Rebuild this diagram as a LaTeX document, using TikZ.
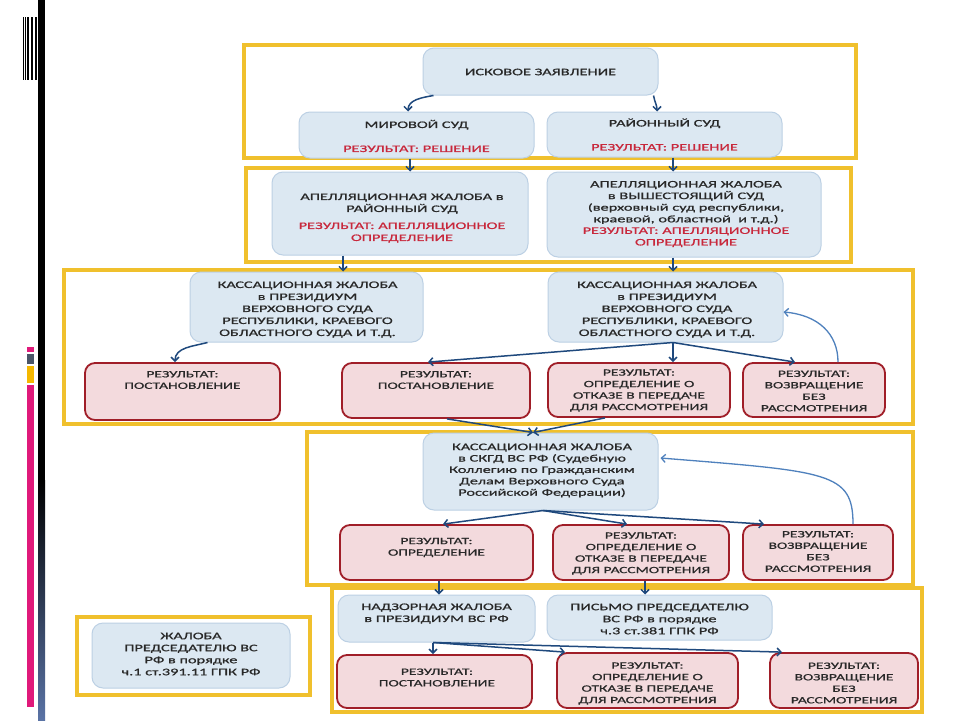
\documentclass[tikz,border=0pt]{standalone}
\usepackage{fontspec}
\newfontfamily\slidefont[FakeStretch=1.63,FakeBold=0.9]{Carlito}
\usetikzlibrary{arrows.meta,calc}
\definecolor{frameyel}{RGB}{240,192,45}
\definecolor{bluefill}{RGB}{220,232,242}
\definecolor{blueedge}{RGB}{188,208,228}
\definecolor{redfill}{RGB}{243,218,221}
\definecolor{rededge}{RGB}{160,30,40}
\definecolor{resred}{RGB}{200,40,60}
\definecolor{txtgray}{RGB}{40,40,40}
\definecolor{arrblue}{RGB}{31,73,125}
\definecolor{fbblue}{RGB}{79,129,189}
\definecolor{slate}{RGB}{90,115,165}
\definecolor{decopink}{RGB}{224,25,122}
\definecolor{decogray}{RGB}{74,85,104}
\definecolor{decoyel}{RGB}{245,184,0}
\begin{document}
\begin{tikzpicture}[x=1pt,y=-1pt,
  frame/.style={draw=frameyel, line width=4pt},
  bluebox/.style={draw=blueedge, fill=bluefill, line width=1pt, rounded corners=11pt, inner sep=0pt},
  redbox/.style={draw=rededge, fill=redfill, line width=1.8pt, rounded corners=10pt, inner sep=0pt},
  txt/.style={font=\slidefont\fontsize{10}{12}\selectfont, align=center, inner sep=0pt, text=txtgray},
  rtxt/.style={font=\slidefont\fontsize{9.5}{11.5}\selectfont, align=center, inner sep=0pt, text=txtgray},
  arr/.style={draw=arrblue, line width=1.5pt, -{Straight Barb[length=4pt,width=8pt]}},
  fb/.style={draw=fbblue, line width=1.3pt, -{Straight Barb[length=4pt,width=8pt]}}]
\useasboundingbox (0,0) rectangle (960,720);
\fill[white] (0,0) rectangle (960,720);
% left decorations
\fill[black] (38,0) rectangle (45,480);
\shade[top color=black, bottom color=slate] (38,480) rectangle (45,720);
\fill[black] (22.7,17) rectangle (23.7,80);
\fill[black] (25,17) rectangle (26,80);
\fill[black] (27.3,17) rectangle (29.3,80);
\fill[black] (30.7,17) rectangle (33.3,80);
\fill[black] (34.7,17) rectangle (37.3,80);
\fill[decopink] (27,347) rectangle (34,352);
\fill[decogray] (27,354) rectangle (34,364);
\fill[decoyel] (27,366) rectangle (34,383);
\fill[decopink] (27,385) rectangle (34,707);
% frames
\draw[frame] (244,45) rectangle (856,158);
\draw[frame] (246,168) rectangle (851,262);
\draw[frame] (64,270) rectangle (913,424);
\draw[frame] (307,432) rectangle (913,585);
\draw[frame] (332,588) rectangle (922,712);
\draw[frame] (77,617) rectangle (310,695);
% row 1
\node[bluebox, minimum width=235pt, minimum height=47pt] (isk) at (540.5,71.5) {};
\node[txt] (iskT) at (540.5,72) {ИСКОВОЕ ЗАЯВЛЕНИЕ};
\node[bluebox, minimum width=235pt, minimum height=46pt] (mir) at (416.5,135) {};
\node[txt] (mirT) at (416.5,136) {МИРОВОЙ СУД\\[12pt]{\color{resred}РЕЗУЛЬТАТ: РЕШЕНИЕ}};
\node[bluebox, minimum width=235pt, minimum height=45pt] (ray) at (664.5,134.5) {};
\node[txt] (rayT) at (664.5,134.5) {РАЙОННЫЙ СУД\\[12pt]{\color{resred}РЕЗУЛЬТАТ: РЕШЕНИЕ}};
% row 2
\node[bluebox, minimum width=256pt, minimum height=83pt] (apl) at (400,213.5) {};
\node[txt] (aplT) at (402,218) {АПЕЛЛЯЦИОННАЯ ЖАЛОБА в\\РАЙОННЫЙ СУД\\[5pt]{\color{resred}РЕЗУЛЬТАТ: АПЕЛЛЯЦИОННОЕ}\\{\color{resred}ОПРЕДЕЛЕНИЕ}};
\node[bluebox, minimum width=274pt, minimum height=85pt] (apr) at (684,214.5) {};
\node[txt, font=\slidefont\fontsize{10}{11.6}\selectfont] (aprT) at (686,214) {АПЕЛЛЯЦИОННАЯ ЖАЛОБА\\в ВЫШЕСТОЯЩИЙ СУД\\(верховный суд республики,\\краевой, областной \ и т.д.)\\{\color{resred}РЕЗУЛЬТАТ: АПЕЛЛЯЦИОННОЕ}\\{\color{resred}ОПРЕДЕЛЕНИЕ}};
% row 3
\node[bluebox, minimum width=233pt, minimum height=70pt] (ksl) at (306.5,307) {};
\node[txt] (kslT) at (307.5,309.5) {КАССАЦИОННАЯ ЖАЛОБА\\в ПРЕЗИДИУМ\\ВЕРХОВНОГО СУДА\\РЕСПУБЛИКИ, КРАЕВОГО\\ОБЛАСТНОГО СУДА И Т.Д.};
\node[bluebox, minimum width=235pt, minimum height=70pt] (ksr) at (665.5,307) {};
\node[txt] (ksrT) at (667,309.5) {КАССАЦИОННАЯ ЖАЛОБА\\в ПРЕЗИДИУМ\\ВЕРХОВНОГО СУДА\\РЕСПУБЛИКИ, КРАЕВОГО\\ОБЛАСТНОГО СУДА И Т.Д.};
\node[redbox, minimum width=195pt, minimum height=57pt] (r3a) at (182.5,391.5) {};
\node[rtxt] (r3aT) at (182.5,380) {РЕЗУЛЬТАТ:\\ПОСТАНОВЛЕНИЕ};
\node[redbox, minimum width=188pt, minimum height=55pt] (r3b) at (436,390.5) {};
\node[rtxt] (r3bT) at (436,380) {РЕЗУЛЬТАТ:\\ПОСТАНОВЛЕНИЕ};
\node[redbox, minimum width=182pt, minimum height=54pt] (r3c) at (639,390) {};
\node[rtxt] (r3cT) at (639,390.5) {РЕЗУЛЬТАТ:\\ОПРЕДЕЛЕНИЕ О\\ОТКАЗЕ В ПЕРЕДАЧЕ\\ДЛЯ РАССМОТРЕНИЯ};
\node[redbox, minimum width=142pt, minimum height=54pt] (r3d) at (814,390) {};
\node[rtxt] (r3dT) at (814,391) {РЕЗУЛЬТАТ:\\ВОЗВРАЩЕНИЕ\\БЕЗ\\РАССМОТРЕНИЯ};
% row 4
\node[bluebox, minimum width=235pt, minimum height=77pt] (skgd) at (540.5,471.5) {};
\node[txt, font=\slidefont\fontsize{10}{11.4}\selectfont] (skgdT) at (542,470.5) {КАССАЦИОННАЯ ЖАЛОБА\\в СКГД ВС РФ (Судебную\\Коллегию по Гражданским\\Делам Верховного Суда\\Российской Федерации)};
\node[redbox, minimum width=193pt, minimum height=55pt] (r4a) at (436.5,552.5) {};
\node[rtxt] (r4aT) at (436.5,547.5) {РЕЗУЛЬТАТ:\\ОПРЕДЕЛЕНИЕ};
\node[redbox, minimum width=176pt, minimum height=55pt] (r4b) at (641,552.5) {};
\node[rtxt] (r4bT) at (641,553.5) {РЕЗУЛЬТАТ:\\ОПРЕДЕЛЕНИЕ О\\ОТКАЗЕ В ПЕРЕДАЧЕ\\ДЛЯ РАССМОТРЕНИЯ};
\node[redbox, minimum width=150pt, minimum height=55pt] (r4c) at (818,552.5) {};
\node[rtxt] (r4cT) at (818,551.5) {РЕЗУЛЬТАТ:\\ВОЗВРАЩЕНИЕ\\БЕЗ\\РАССМОТРЕНИЯ};
% row 5
\node[bluebox, minimum width=197pt, minimum height=47pt] (nad) at (436.5,618.5) {};
\node[txt] (nadT) at (436.5,613.5) {НАДЗОРНАЯ ЖАЛОБА\\в ПРЕЗИДИУМ ВС РФ};
\node[bluebox, minimum width=225pt, minimum height=45pt] (pis) at (659.5,617.5) {};
\node[txt] (pisT) at (659.5,619) {ПИСЬМО ПРЕДСЕДАТЕЛЮ\\ВС РФ в порядке\\ч.3 ст.381 ГПК РФ};
\node[redbox, minimum width=195pt, minimum height=53pt] (r5a) at (434.5,681.5) {};
\node[rtxt] (r5aT) at (437,677.5) {РЕЗУЛЬТАТ:\\ПОСТАНОВЛЕНИЕ};
\node[redbox, minimum width=181pt, minimum height=55pt] (r5b) at (647.5,680.5) {};
\node[rtxt] (r5bT) at (647.5,683.5) {РЕЗУЛЬТАТ:\\ОПРЕДЕЛЕНИЕ О\\ОТКАЗЕ В ПЕРЕДАЧЕ\\ДЛЯ РАССМОТРЕНИЯ};
\node[redbox, minimum width=148pt, minimum height=55pt] (r5c) at (844,680.5) {};
\node[rtxt] (r5cT) at (844,683) {РЕЗУЛЬТАТ:\\ВОЗВРАЩЕНИЕ\\БЕЗ\\РАССМОТРЕНИЯ};
\node[bluebox, minimum width=198pt, minimum height=65pt] (jal) at (191,655.5) {};
\node[txt] (jalT) at (191,654) {ЖАЛОБА\\ПРЕДСЕДАТЕЛЮ ВС\\РФ в порядке\\ч.1 ст.391.11 ГПК РФ};
% connectors
\draw[arr] ([xshift=11pt]isk.south west) to[out=190,in=90] ([xshift=-8.5pt]mir.north);
\draw[arr] ([xshift=-5pt]isk.south east) to[out=-80,in=90] ([xshift=-7.5pt]ray.north);
\draw[arr] ([xshift=-6.5pt]mir.south) -- ([xshift=-6.5pt]mir.south |- apl.north);
\draw[arr] ([xshift=8.5pt]ray.south) -- ([xshift=8.5pt]ray.south |- apr.north);
\draw[arr] ([xshift=-57pt]apl.south) -- ([xshift=-57pt]apl.south |- ksl.north);
\draw[arr] ([xshift=-11pt]apr.south) -- ([xshift=-11pt]apr.south |- ksr.north);
\draw[arr] ([xshift=18pt]ksl.south west) to[out=195,in=90] ([xshift=-7.5pt]r3a.north);
\draw[arr] ([xshift=7.5pt]ksr.south) -- ([xshift=-8pt]r3b.north);
\draw[arr] ([xshift=7.5pt]ksr.south) -- ([xshift=7.5pt]ksr.south |- r3c.north);
\draw[arr] ([xshift=7.5pt]ksr.south) -- ([xshift=-19pt]r3d.north);
\draw[fb] ([xshift=24pt]r3d.north) .. controls ([xshift=24pt,yshift=28pt]r3d.north) and ([xshift=35pt,yshift=-8pt]ksr.east) .. ([yshift=-5pt]ksr.east);
\draw[arr] ([xshift=11pt]r3b.south) -- ([xshift=-7.5pt]skgd.north);
\draw[arr] ([xshift=-34pt]r3c.south) -- ([xshift=-7.5pt]skgd.north);
\draw[arr] ([xshift=2.5pt]skgd.south) -- ([xshift=6.5pt]r4a.north);
\draw[arr] ([xshift=2.5pt]skgd.south) -- ([xshift=-14pt]r4b.north);
\draw[arr] ([xshift=2.5pt]skgd.south) -- ([xshift=-54pt]r4c.north);
\draw[fb] ([xshift=35pt]r4c.north) .. controls ([xshift=35pt,yshift=52pt]r4c.north) and ([xshift=170pt,yshift=0pt]skgd.east) .. ([xshift=2pt,yshift=13.5pt]skgd.east);
\draw[arr] ([xshift=2.5pt]r4a.south) -- ([xshift=2.5pt]r4a.south |- nad.north);
\draw[arr] ([xshift=4pt]r4b.south) -- ([xshift=4pt]r4b.south |- pis.north);
\draw[arr] ([xshift=-3.5pt]nad.south) -- ([xshift=-3.5pt]nad.south |- r5a.north);
\draw[arr] ([xshift=-3.5pt]nad.south) -- ([xshift=-82.5pt]r5b.north);
\draw[arr] ([xshift=-3.5pt]nad.south) -- ([xshift=-62pt]r5c.north);
\end{tikzpicture}
\end{document}
